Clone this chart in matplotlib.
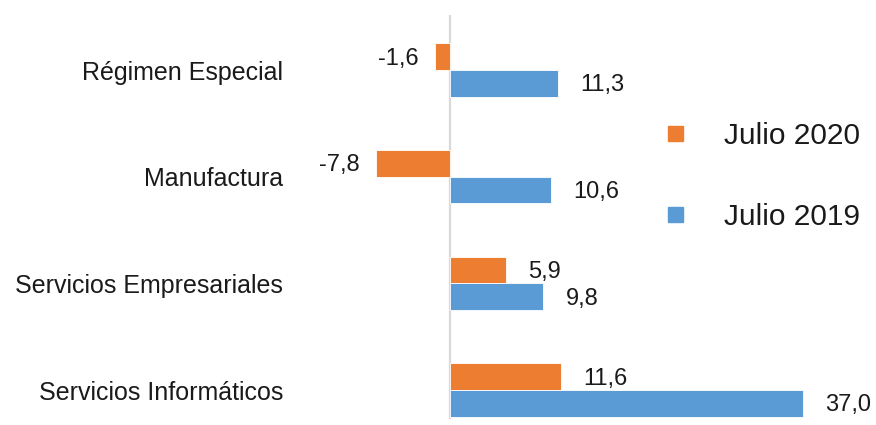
import matplotlib.pyplot as plt
from matplotlib.lines import Line2D
import numpy as np

plt.rcParams['font.family'] = ['Liberation Sans', 'DejaVu Sans']

# Data
categories = ['Régimen Especial', 'Manufactura', 'Servicios Empresariales', 'Servicios Informáticos']
julio_2020 = [-1.6, -7.8, 5.9, 11.6]
julio_2019 = [11.3, 10.6, 9.8, 37.0]
series_names = ['Julio 2020', 'Julio 2019']

orange = '#ED7D31'
blue = '#5B9BD5'
text_color = '#1a1a1a'

fig = plt.figure(figsize=(8.76, 4.25), dpi=100)
ax = fig.add_axes([0.4048, 0.0146, 0.5445, 0.951])

y = np.arange(len(categories))[::-1]
h = 0.25
ax.barh(y + h / 2, julio_2020, height=h, color=orange, edgecolor='white', linewidth=0.6)
ax.barh(y - h / 2, julio_2019, height=h, color=blue, edgecolor='white', linewidth=0.6)

ax.axvline(0, color='#d9d9d9', linewidth=1.6, zorder=0)

def fmt(v):
    return f'{v:.1f}'.replace('.', ',')

# value labels, Excel style (decimal comma)
for vals, off in [(julio_2020, h / 2), (julio_2019, -h / 2)]:
    for yi, v in zip(y, vals):
        if v >= 0:
            ax.annotate(fmt(v), (v, yi + off), xytext=(16, -1.5), textcoords='offset points',
                        ha='left', va='center', fontsize=17, color=text_color)
        else:
            ax.annotate(fmt(v), (v, yi + off), xytext=(-11.5, -1.5), textcoords='offset points',
                        ha='right', va='center', fontsize=17, color=text_color)

ax.set_xlim(-10, 40)
ax.set_ylim(-0.27, 3.52)
ax.set_yticks(y)
ax.set_yticklabels(categories, fontsize=18, color=text_color)
ax.tick_params(axis='y', length=0, pad=51.5)
ax.set_xticks([])
for s in ax.spines.values():
    s.set_visible(False)

handles = [Line2D([], [], marker='s', linestyle='none', markersize=10.8, color=c)
           for c in (orange, blue)]
leg = fig.legend(handles, series_names, loc='center left', bbox_to_anchor=(0.745, 0.585),
                 frameon=False, fontsize=21.5, handlelength=0.5, handletextpad=1.4,
                 labelspacing=1.77, borderpad=0)
for t in leg.get_texts():
    t.set_color(text_color)

fig.savefig('out.png', dpi=100)
